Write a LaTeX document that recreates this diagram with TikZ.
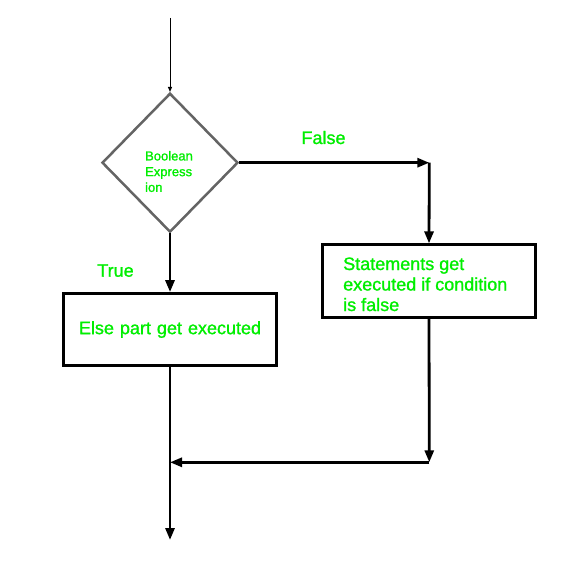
\documentclass[tikz,border=0pt]{standalone}
\usepackage{fontspec}
\setmainfont{Liberation Sans}[FakeBold=1.2]
\usetikzlibrary{shapes.geometric,arrows.meta}
\definecolor{txtgreen}{RGB}{0,238,0}
\definecolor{dgray}{RGB}{100,100,100}
\begin{document}
\begin{tikzpicture}[x=1pt,y=-1pt,
  flowline/.style={line width=2.8pt,-{Triangle[length=12pt,width=9pt]}},
  procbox/.style={draw=black,line width=2.8pt,minimum width=213pt,inner sep=0pt,
    text=txtgreen,font=\fontsize{18}{20.5}\selectfont},
  decision/.style={diamond,draw=dgray,line width=2.5pt,minimum width=136pt,minimum height=139pt,inner sep=0pt},
  lbl/.style={text=txtgreen,font=\fontsize{18}{20.5}\selectfont,inner sep=0pt}]
\useasboundingbox (0,0) rectangle (570,585);
\fill[white] (0,0) rectangle (570,585);
\coordinate (start) at (170,18);
\node[decision] (dec) at (170,162.7) {};
\node[text=txtgreen,font=\fontsize{13}{15.7}\selectfont,align=left,inner sep=0pt] (dtext) at (169,171.5) {Boolean\\Express\\ion};
\node[procbox,minimum height=72pt,text width=200pt,align=center] (lbox) at (170,329.5) {Else part get executed};
\node[procbox,minimum height=73pt] (rbox) at (429,281.3) {};
\node[lbl,anchor=base west,align=left] (rtext) at (343,311) {Statements get\\executed if condition\\is false};
\coordinate (c1) at (429.3,162.7);
\coordinate (c2) at (429.3,462.3);
\coordinate (c3) at (170,462.3);
\coordinate (endp) at (170,540);
\node[lbl,anchor=base] (ltrue) at (115.5,276.7) {True};
\node[lbl,anchor=base] (lfalse) at (323.5,144) {False};
\draw[line width=1pt,-{Triangle[length=5pt,width=4pt]}] (start) -- (dec.north);
\draw[flowline] (dec.south) -- (lbox.north);
\draw[flowline] (dec.east) -- (c1);
\draw[flowline] (c1) -- (rbox.north);
\draw[flowline] (rbox.south) -- (c2);
\draw[flowline] (c2) -- (c3);
\draw[flowline] (lbox.south) -- (endp);
\end{tikzpicture}
\end{document}
